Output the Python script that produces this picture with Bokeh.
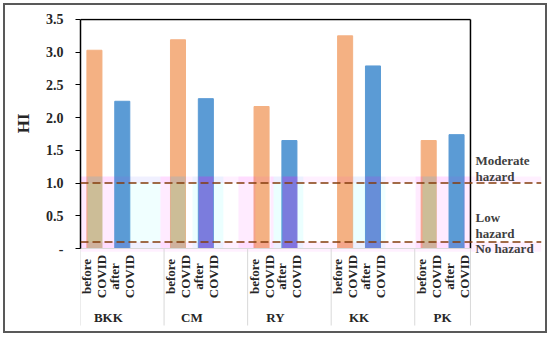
import math
from bokeh.plotting import figure
from bokeh.models import Range1d, FixedTicker, Span, Title
from bokeh.core.properties import value
from bokeh.embed import file_html
from bokeh.resources import INLINE

# ---- data ----
sites = ["BKK", "CM", "RY", "KK", "PK"]
periods = ["before COVID", "after COVID"]
before_covid = [3.03, 3.19, 2.17, 3.25, 1.65]
after_covid = [2.25, 2.29, 1.65, 2.79, 1.74]
y_ticks = [0, 0.5, 1.0, 1.5, 2.0, 2.5, 3.0, 3.5]
y_tick_labels = ["-", "0.5", "1.0", "1.5", "2.0", "2.5", "3.0", "3.5"]
hazard_levels = [1.0, 0.1]
hazard_text = ["Moderate", "hazard", "Low", "hazard", "No hazard"]
hazard_text_y = [1.345, 1.10, 0.474, 0.229, 0.0]
# decorative translucent bands (slot units) below HI = 1.1
pink_bands_l = [0.0, 0.79, 2.87, 5.67, 6.82, 12.03, 12.78, 13.75]
pink_bands_r = [0.25, 1.22, 3.23, 6.28, 6.93, 12.28, 13.21, 14.0]
cyan_bands_l = [0.25, 1.76, 3.23, 4.02, 4.77, 6.93, 7.79, 9.76, 10.77, 12.28]
cyan_bands_r = [0.79, 2.87, 3.77, 4.24, 5.13, 7.25, 8.0, 10.23, 10.95, 12.78]
cyan_alpha = [0.16, 0.06, 0.16, 0.08, 0.08, 0.08, 0.08, 0.08, 0.06, 0.16]
mag_bands_l = [4.24, 7.25, 10.23]
mag_bands_r = [4.77, 7.79, 10.77]
mag_alpha = [0.2, 0.2, 0.08]

ORANGE = "#F4B183"
BLUE = "#5B9BD5"
FONT = "Liberation Serif"
TXT = "#262626"

n_slots = 3 * len(sites) - 1
slot_x_before = [3 * i + 0.5 for i in range(len(sites))]
slot_x_after = [3 * i + 1.5 for i in range(len(sites))]
group_center = [3 * i + 1 for i in range(len(sites))]
sep_ticks = [3 * i for i in range(len(sites))] + [n_slots]

Y_TOP = 3.515
Y_BOT = -1.253
p = figure(x_range=Range1d(0, 16.55), y_range=Range1d(Y_BOT, Y_TOP),
           frame_width=461, frame_height=312,
           min_border_left=75, min_border_right=4, min_border_top=13, min_border_bottom=1,
           x_axis_type=None,
           output_backend="svg", toolbar_location=None)
p.styles = {"position": "relative", "left": "5px", "top": "5px",
            "outline": "2px solid #595959"}
p.outline_line_color = None
p.xgrid.visible = False
p.ygrid.visible = False

bw = 0.54
p.vbar(x=slot_x_before, top=before_covid, width=bw, color=ORANGE)
p.vbar(x=slot_x_after, top=after_covid, width=bw, color=BLUE)

# overlays
p.quad(left=pink_bands_l, right=pink_bands_r, bottom=0, top=1.1, color="#FF00FF", alpha=0.08, line_color=None)
p.quad(left=cyan_bands_l, right=cyan_bands_r, bottom=0, top=1.1, color="#00FFFF", fill_alpha=cyan_alpha, line_color=None)
p.quad(left=mag_bands_l, right=mag_bands_r, bottom=0, top=1.1, color="#FF00FF", fill_alpha=mag_alpha, line_color=None)
p.quad(left=[0, 0], right=[16.55, 16.55], bottom=[1.0, -0.05], top=[1.1, 0.1], color="#FF00FF", alpha=0.06, line_color=None)

# plot box top / right, category axis line and separators
p.segment(x0=[0, n_slots], y0=[3.5, 0], x1=[n_slots, n_slots], y1=[3.5, 3.5], line_color="black", line_width=1.5)
p.segment(x0=[0], y0=[0], x1=[n_slots], y1=[0], line_color="#D9D9D9", line_width=1)
p.segment(x0=sep_ticks, y0=0, x1=sep_ticks, y1=-1.177, line_color="#D9D9D9", line_width=1)

for lvl in hazard_levels:
    p.add_layout(Span(location=lvl, dimension="width", line_color="#843C0C", line_width=1.5, line_dash="8 4"))

# y axis
ya = p.yaxis[0]
ya.bounds = (0, 3.5)
ya.ticker = FixedTicker(ticks=y_ticks)
ya.major_label_overrides = {t: s for t, s in zip(y_ticks, y_tick_labels)}
ya.major_label_text_font = FONT
ya.major_label_text_font_style = "bold"
ya.major_label_text_font_size = "14px"
ya.major_label_text_color = "#262626"
ya.major_label_standoff = 12
ya.major_tick_out = 5
ya.major_tick_in = 0
ya.minor_tick_line_color = None
ya.axis_line_color = "black"
ya.axis_line_width = 1.5
ya.major_tick_line_color = "black"

# y-axis title, placed near the upper part of the axis
p.add_layout(Title(text="HI", align="right", offset=95, standoff=16, vertical_align="top",
                   text_font=FONT, text_font_style="bold", text_font_size="17px",
                   text_color="#262626"), "left")

# category labels (two stacked rotated words per bar)
wx, wt = [], []
for i in range(len(sites)):
    for xc, word in ((slot_x_before[i], periods[0]), (slot_x_after[i], periods[1])):
        w1, w2 = word.split(" ")
        wx += [xc - 0.27, xc + 0.27]
        wt += [w1, w2]
p.text(x=wx, y=-0.428, text=wt, angle=math.pi / 2, text_align="center", text_baseline="middle",
       text_font=value(FONT), text_font_style="bold", text_font_size="13px", text_color=TXT)
p.text(x=group_center, y=-1.055, text=sites, text_align="center", text_baseline="middle",
       text_font=value(FONT), text_font_style="bold", text_font_size="13px", text_color=TXT)
p.text(x=14.18, y=hazard_text_y, text=hazard_text, text_align="left", text_baseline="middle",
       text_font=value(FONT), text_font_style="bold", text_font_size="13px", text_color="#404040")

open("out.html", "w").write(file_html(p, INLINE))
